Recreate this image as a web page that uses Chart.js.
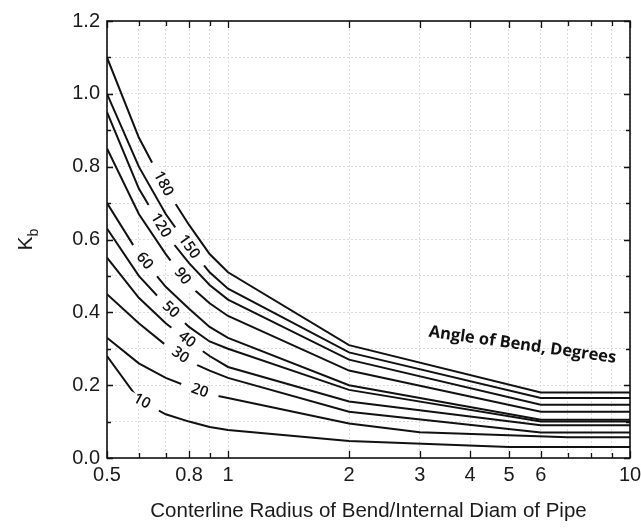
<!DOCTYPE html>
<html>
<head>
<meta charset="utf-8">
<script src="https://cdn.jsdelivr.net/npm/chart.js@4.4.1/dist/chart.umd.min.js"></script>
<style>
    html, body { margin: 0; padding: 0; background: #fff; }
    #wrap { width: 641px; height: 530px; }
</style>
</head>
<body>
<div id="wrap"><canvas id="bendChart" width="641" height="530"></canvas></div>
<script>
// Ratio r/D along the x axis (log scale)
const ratios = [0.5, 0.6, 0.7, 0.8, 0.9, 1, 2, 3, 4, 5, 6, 7, 10];

// K_b, one list per bend angle (null = no point there)
const k180 = [1.10, 0.88, 0.74, 0.64, 0.56, 0.51, 0.31, null, null, null, 0.180, null, 0.180];
const k150 = [1.00, 0.80, 0.67, 0.58, 0.51, 0.465, 0.29, null, null, null, 0.165, null, 0.165];
const k120 = [0.95, 0.74, 0.615, 0.535, 0.475, 0.435, 0.27, null, null, null, 0.146, null, 0.146];
const k90 = [0.85, 0.67, 0.56, 0.475, 0.425, 0.39, 0.24, null, null, null, 0.127, null, 0.127];
const k60 = [0.70, 0.56, 0.47, 0.41, 0.36, 0.33, 0.20, null, null, null, 0.105, null, 0.105];
const k50 = [0.63, 0.50, 0.42, 0.36, 0.32, 0.30, 0.187, null, null, null, 0.100, null, 0.100];
const k40 = [0.55, 0.44, 0.37, 0.32, 0.28, 0.25, 0.155, null, null, null, 0.090, null, 0.090];
const k30 = [0.45, 0.37, 0.31, 0.265, 0.24, 0.22, 0.127, null, null, null, 0.070, null, 0.070];
const k20 = [0.33, 0.26, 0.22, 0.195, 0.175, 0.165, 0.095, 0.071, null, null, null, 0.057, 0.057];
const k10 = [0.28, 0.16, 0.12, 0.10, 0.085, 0.077, 0.047, null, null, 0.030, null, null, 0.030];

const angles = ['180', '150', '120', '90', '60', '50', '40', '30', '20', '10'];
const seriesK = [k180, k150, k120, k90, k60, k50, k40, k30, k20, k10];
// where each angle label sits on its curve (x value)
const labelAt = [0.69, 0.80, 0.68, 0.77, 0.62, 0.72, 0.79, 0.76, 0.85, 0.61];

// Tick labels
const xTickValues = [0.5, 0.6, 0.7, 0.8, 0.9, 1, 2, 3, 4, 5, 6, 7, 8, 9, 10];
const xTickLabels = ['0.5', '0.8', '1', '2', '3', '4', '5', '6', '10'];
const yTickLabels = ['0.0', '0.2', '0.4', '0.6', '0.8', '1.0', '1.2'];

const noteText = 'Angle of Bend, Degrees';
const noteAt = { x: 5.4, y: 0.31 };

const axisFont = '"Liberation Sans", Arial, sans-serif';
const noteFont = '"Open Sans", "Noto Sans", sans-serif';

// Frame round the plot and inward tick marks on all four sides
const framePlugin = {
    id: 'frame',
    afterDraw(chart) {
        const { ctx, chartArea: a, scales: { x, y } } = chart;
        ctx.save();
        ctx.strokeStyle = '#111';
        ctx.lineWidth = 1.6;
        ctx.strokeRect(a.left, a.top, a.right - a.left, a.bottom - a.top);
        ctx.lineWidth = 1.3;
        ctx.beginPath();
        y.ticks.forEach(t => {
            const py = Math.round(y.getPixelForValue(t.value)) + 0.5;
            const len = t.label ? 6 : 4;
            ctx.moveTo(a.left, py); ctx.lineTo(a.left + len, py);
            ctx.moveTo(a.right, py); ctx.lineTo(a.right - len, py);
        });
        x.ticks.forEach(t => {
            const px = Math.round(x.getPixelForValue(t.value)) + 0.5;
            const len = t.label ? 7 : 5;
            ctx.moveTo(px, a.bottom); ctx.lineTo(px, a.bottom - len);
            ctx.moveTo(px, a.top); ctx.lineTo(px, a.top + len);
        });
        ctx.stroke();

        // y title: K with subscript b
        ctx.translate(26, (a.top + a.bottom) / 2);
        ctx.rotate(-Math.PI / 2);
        ctx.fillStyle = '#1a1a1a';
        ctx.textBaseline = 'middle';
        ctx.font = '21px ' + axisFont;
        const kw = ctx.measureText('K').width;
        ctx.font = '14px ' + axisFont;
        const bw = ctx.measureText('b').width;
        const start = -(kw + bw) / 2;
        ctx.font = '21px ' + axisFont;
        ctx.textAlign = 'left';
        ctx.fillText('K', start, 0);
        ctx.font = '14px ' + axisFont;
        ctx.fillText('b', start + kw, 8);
        ctx.restore();
    }
};

// Angle labels cut into the curves, plus the note
const curveLabelPlugin = {
    id: 'curveLabels',
    afterDatasetsDraw(chart) {
        const { ctx, scales: { x, y } } = chart;
        ctx.save();
        ctx.font = '600 15px ' + noteFont;
        ctx.textAlign = 'center';
        ctx.textBaseline = 'middle';
        chart.data.datasets.forEach((ds, i) => {
            const pts = chart.getDatasetMeta(i).data.filter(p => !p.skip);
            const px = x.getPixelForValue(labelAt[i]);
            for (let j = 0; j < pts.length - 1; j++) {
                const p0 = pts[j], p1 = pts[j + 1];
                if (px < p0.x || px > p1.x) continue;
                const t = (px - p0.x) / (p1.x - p0.x);
                const py = p0.y + t * (p1.y - p0.y);
                const ang = Math.atan2(p1.y - p0.y, p1.x - p0.x);
                const w = ctx.measureText(angles[i]).width;
                ctx.save();
                ctx.translate(px, py);
                ctx.rotate(ang);
                ctx.fillStyle = '#fff';
                ctx.fillRect(-w / 2 - 11, -4, w + 22, 8);
                ctx.fillStyle = '#111';
                ctx.fillText(angles[i], 0, 0);
                ctx.restore();
                break;
            }
        });
        ctx.translate(x.getPixelForValue(noteAt.x), y.getPixelForValue(noteAt.y));
        ctx.rotate(8 * Math.PI / 180);
        ctx.font = 'bold 16.5px ' + noteFont;
        ctx.fillStyle = '#111';
        ctx.fillText(noteText, 0, 0);
        ctx.restore();
    }
};

const ctx = document.getElementById('bendChart').getContext('2d');
const chart = new Chart(ctx, {
    type: 'line',
    data: {
        labels: ratios,
        datasets: seriesK.map((vals, i) => ({
            label: angles[i],
            data: vals.map((v, j) => ({ x: ratios[j], y: v })),
            borderColor: '#111',
            borderWidth: 2,
            pointRadius: 0,
            tension: 0,
            fill: false,
            spanGaps: true
        }))
    },
    options: {
        responsive: false,
        animation: false,
        events: [],
        layout: { padding: { left: 0, top: 21, right: 11, bottom: 0 } },
        plugins: {
            legend: { display: false },
            tooltip: { enabled: false }
        },
        scales: {
            x: {
                type: 'logarithmic',
                min: 0.5,
                max: 10,
                afterBuildTicks: scale => {
                    scale.ticks = xTickValues.map(v => ({ value: v }));
                },
                afterFit: scale => {
                    scale.height = 72;
                    scale.paddingLeft = 0;
                    scale.paddingRight = 0;
                },
                grid: { color: '#dcdcdc', lineWidth: 1, drawTicks: false },
                border: { display: false, dash: [2, 2] },
                ticks: {
                    autoSkip: false,
                    maxRotation: 0,
                    padding: 5,
                    color: '#1a1a1a',
                    font: { family: axisFont, size: 20 },
                    callback: v => {
                        const s = String(Math.round(v * 10) / 10);
                        return xTickLabels.includes(s) ? s : '';
                    }
                },
                title: {
                    display: true,
                    text: 'Conterline Radius of Bend/Internal Diam of Pipe',
                    color: '#1a1a1a',
                    font: { family: axisFont, size: 20.5 },
                    padding: { top: 0, bottom: 6 }
                }
            },
            y: {
                min: 0,
                max: 1.2,
                afterFit: scale => { scale.width = 107; },
                grid: { color: '#dcdcdc', lineWidth: 1, drawTicks: false },
                border: { display: false, dash: [2, 2] },
                ticks: {
                    stepSize: 0.1,
                    padding: 7,
                    color: '#1a1a1a',
                    font: { family: axisFont, size: 20 },
                    callback: v => {
                        const s = v.toFixed(1);
                        return yTickLabels.includes(s) && Math.round(v * 10) % 2 === 0 ? s : '';
                    }
                }
            }
        }
    },
    plugins: [curveLabelPlugin, framePlugin]
});
</script>
</body>
</html>
